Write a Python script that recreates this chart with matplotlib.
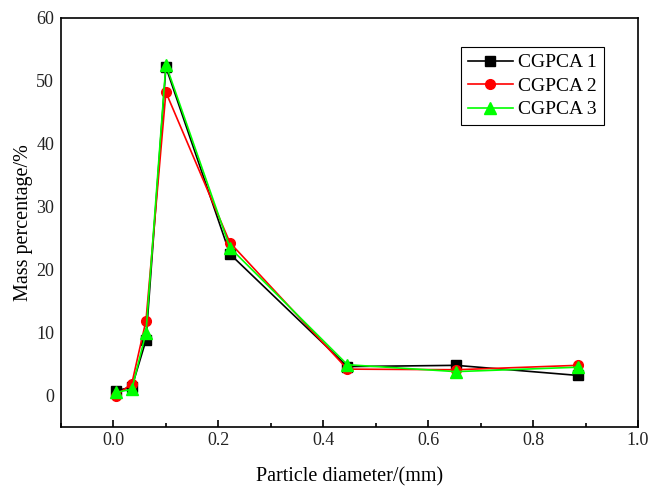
import numpy as np
import matplotlib
matplotlib.use("agg")
import matplotlib.pyplot as plt
from matplotlib.ticker import MultipleLocator

plt.rcParams["font.family"] = ["Liberation Serif", "DejaVu Serif"]

# particle diameter (mm)
diameter = [0.005, 0.035, 0.062, 0.100, 0.222, 0.446, 0.653, 0.885]
# mass percentage (%)
cgpca1 = [0.8, 1.3, 8.8, 52.2, 22.5, 4.6, 4.8, 3.2]
cgpca2 = [0.0, 1.9, 11.9, 48.2, 24.3, 4.2, 4.1, 4.8]
cgpca3 = [0.5, 1.0, 10.0, 52.6, 23.5, 4.9, 3.8, 4.5]
series_names = ["CGPCA 1", "CGPCA 2", "CGPCA 3"]

fig = plt.figure(figsize=(6.51, 4.86), dpi=100)
ax = fig.add_axes([61 / 651, 1 - 427 / 486, (638 - 61) / 651, (427 - 18) / 486])

ax.plot(diameter, cgpca1, color="black", marker="s", markersize=7, lw=1.2, label=series_names[0])
ax.plot(diameter, cgpca2, color="red", marker="o", markersize=7, lw=1.2, label=series_names[1])
ax.plot(diameter, cgpca3, color="#00ff00", marker="^", markersize=8, lw=1.2, label=series_names[2])

ax.set_xlim(-0.1, 1.0)
ax.set_ylim(-5, 60)
ax.xaxis.set_major_locator(MultipleLocator(0.2))
ax.xaxis.set_minor_locator(MultipleLocator(0.1))
ax.yaxis.set_major_locator(MultipleLocator(10))
ax.tick_params(which="both", direction="in", labelsize=13, width=1.2, labelcolor="#222222")
ax.tick_params(axis="x", which="major", length=5)
ax.tick_params(axis="x", which="minor", length=3)
ax.tick_params(axis="y", which="major", length=0, pad=5)
for s in ax.spines.values():
    s.set_linewidth(1.2)

ax.set_xlabel("Particle diameter/(mm)", fontsize=14.5, labelpad=13)
ax.set_ylabel("Mass percentage/%", fontsize=14.5, labelpad=2)

leg = ax.legend(loc="upper right", bbox_to_anchor=(0.941, 0.929), borderaxespad=0,
                fontsize=14, fancybox=False, edgecolor="black", framealpha=1,
                handlelength=2.3, borderpad=0.35, labelspacing=0.3, handletextpad=0.3)
leg.get_frame().set_linewidth(0.8)

plt.savefig("out.png", dpi=100)
